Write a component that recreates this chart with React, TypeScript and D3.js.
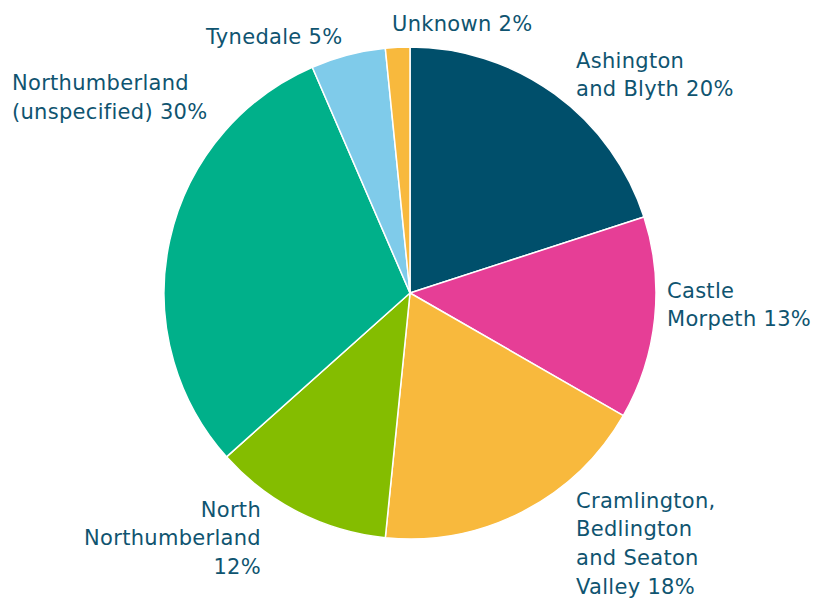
import React from "react";
import * as d3 from "d3";

const categories = [
  "Ashington and Blyth",
  "Castle Morpeth",
  "Cramlington, Bedlington and Seaton Valley",
  "North Northumberland",
  "Northumberland (unspecified)",
  "Tynedale",
  "Unknown",
];
const values = [20.0, 13.3, 18.3, 11.8, 30.1, 4.9, 1.6];
const percentLabels = ["20%", "13%", "18%", "12%", "30%", "5%", "2%"];
const labelLines = [
  ["Ashington", "and Blyth 20%"],
  ["Castle", "Morpeth 13%"],
  ["Cramlington,", "Bedlington", "and Seaton", "Valley 18%"],
  ["North", "Northumberland", "12%"],
  ["Northumberland", "(unspecified) 30%"],
  ["Tynedale 5%"],
  ["Unknown 2%"],
];
const colors = ["#004f6b", "#e63e96", "#f8b93d", "#84bd00", "#00b08a", "#7fcbea", "#f8b93d"];

// label layout (x, first baseline, anchor)
const labelLayout = [
  { x: 576, y: 67.5, anchor: "start" },
  { x: 667, y: 297.5, anchor: "start" },
  { x: 576, y: 507.5, anchor: "start" },
  { x: 261, y: 516.5, anchor: "end" },
  { x: 12, y: 90, anchor: "start" },
  { x: 206, y: 43.5, anchor: "start" },
  { x: 392, y: 31, anchor: "start" },
];

const W = 814;
const H = 599;
const cx = 410;
const cy = 293;
const R = 246;
const lineH = 28.7;

export default function App() {
  const pie = d3.pie<number>().sort(null).value((d) => d);
  const arcs = pie(values);
  const arcGen = d3.arc<d3.PieArcDatum<number>>().innerRadius(0).outerRadius(R);
  return (
    <svg
      width={W}
      height={H}
      style={{ position: "absolute", left: 0, top: 0, background: "#fff" }}
    >
      <g transform={`translate(${cx},${cy})`}>
        {arcs.map((a, i) => (
          <path
            key={categories[i]}
            d={arcGen(a) || ""}
            fill={colors[i]}
            stroke="#fff"
            strokeWidth={1.5}
            strokeLinejoin="round"
          />
        ))}
      </g>
      {labelLines.map((lines, i) => (
        <text
          key={i}
          x={labelLayout[i].x}
          y={labelLayout[i].y}
          textAnchor={labelLayout[i].anchor as any}
          fill="#0f5470"
          fontFamily="'DejaVu Sans', sans-serif"
          fontSize={21}
          letterSpacing={0.3}
        >
          {lines.map((l, j) => (
            <tspan key={j} x={labelLayout[i].x} dy={j === 0 ? 0 : lineH}>
              {l}
            </tspan>
          ))}
        </text>
      ))}
    </svg>
  );
}
